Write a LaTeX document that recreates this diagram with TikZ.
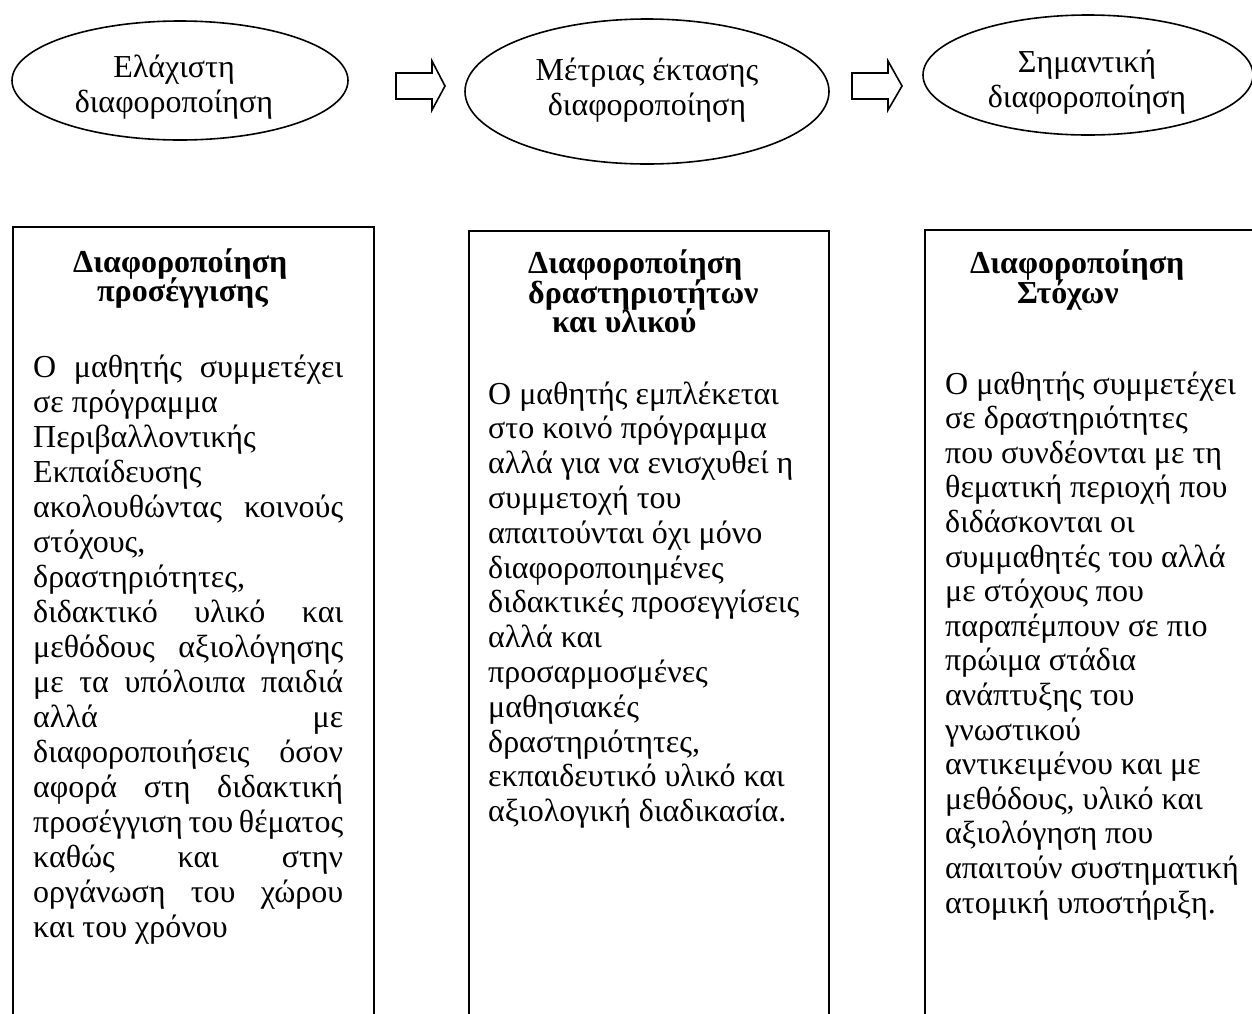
\documentclass[tikz,border=0pt]{standalone}
\usepackage{fontspec}
\setmainfont{Liberation Serif}
\usetikzlibrary{shapes.geometric}
\tikzset{
  oval/.style={draw, ellipse, line width=1.6pt, inner sep=0pt},
  col/.style={draw, line width=1.6pt, inner sep=0pt},
  txt/.style={anchor=base west, inner sep=0pt, font=\fontsize{32}{35}\selectfont},
  hd/.style={anchor=base west, inner sep=0pt, font=\fontsize{32}{35}\selectfont\bfseries},
  ovtxt/.style={anchor=base, inner sep=0pt, font=\fontsize{32}{35}\selectfont},
  blockarrow/.style={draw, line width=1.6pt, line join=miter},
}
\newcommand\jl[1]{\hbox to 310pt{#1}}
\begin{document}
\begin{tikzpicture}[x=1pt,y=-1pt]
\clip (0,0) rectangle (1252,1013);
\fill[white] (0,0) rectangle (1252,1013);

% ovals
\node[oval, minimum width=336pt, minimum height=119pt] (e1) at (180,80.5) {};
\node[oval, minimum width=364pt, minimum height=145pt] (e2) at (647,91.5) {};
\node[oval, minimum width=330pt, minimum height=120pt] (e3) at (1088,75) {};
\node[ovtxt] (e1a) at (174,77) {Ελάχιστη};
\node[ovtxt] (e1b) at (174,112) {διαφοροποίηση};
\node[ovtxt] (e2a) at (647,80) {Μέτριας έκτασης};
\node[ovtxt] (e2b) at (647,115) {διαφοροποίηση};
\node[ovtxt] (e3a) at (1087,72) {Σημαντική};
\node[ovtxt] (e3b) at (1087,107) {διαφοροποίηση};

% block arrows
\draw[blockarrow] (396,73) -- (432,73) -- (432,61) -- (445,86) -- (432,110) -- (432,99) -- (396,99) -- cycle;
\draw[blockarrow] (852,73) -- (888,73) -- (888,61) -- (902,86) -- (888,110) -- (888,99) -- (852,99) -- cycle;

% columns
\node[col, anchor=north west, minimum width=361pt, minimum height=1000pt] (b1) at (12,226) {};
\node[col, anchor=north west, minimum width=360pt, minimum height=1000pt] (b2) at (468,230) {};
\node[col, anchor=north west, minimum width=400pt, minimum height=1000pt] (b3) at (924,229) {};

% headings
\node[hd] (h1a) at (73,272) {Διαφοροποίηση};
\node[hd] (h1b) at (97,301) {προσέγγισης};
\node[hd] (h2a) at (528,273) {Διαφοροποίηση};
\node[hd] (h2b) at (528,303) {δραστηριοτήτων};
\node[hd] (h2c) at (552,332) {και υλικού};
\node[hd] (h3a) at (970,273) {Διαφοροποίηση};
\node[hd] (h3b) at (1017,303) {Στόχων};

% column 1 text
\foreach \t [count=\i] in {
  {\jl{Ο\hfill μαθητής\hfill συμμετέχει}},
  {σε πρόγραμμα},
  {Περιβαλλοντικής},
  {Εκπαίδευσης},
  {\jl{ακολουθώντας\hfill κοινούς}},
  {στόχους,},
  {δραστηριότητες,},
  {\jl{διδακτικό\hfill υλικό\hfill και}},
  {\jl{μεθόδους\hfill αξιολόγησης}},
  {\jl{με\hfill τα\hfill υπόλοιπα\hfill παιδιά}},
  {\jl{αλλά\hfill με}},
  {\jl{διαφοροποιήσεις\hfill όσον}},
  {\jl{αφορά\hfill στη\hfill διδακτική}},
  {\jl{προσέγγιση\hfill του\hfill θέματος}},
  {\jl{καθώς\hfill και\hfill στην}},
  {\jl{οργάνωση\hfill του\hfill χώρου}},
  {και του χρόνου}}
  \node[txt] (t1l\i) at ({33},{377+35*(\i-1)}) {\t};

% column 2 text
\foreach \t [count=\i] in {
  {Ο μαθητής εμπλέκεται},
  {στο κοινό πρόγραμμα},
  {αλλά για να ενισχυθεί η},
  {συμμετοχή του},
  {απαιτούνται όχι μόνο},
  {διαφοροποιημένες},
  {διδακτικές προσεγγίσεις},
  {αλλά και},
  {προσαρμοσμένες},
  {μαθησιακές},
  {δραστηριότητες,},
  {εκπαιδευτικό υλικό και},
  {αξιολογική διαδικασία.}}
  \node[txt] (t2l\i) at ({488},{404+34.8*(\i-1)}) {\t};

% column 3 text
\foreach \t [count=\i] in {
  {Ο μαθητής συμμετέχει},
  {σε δραστηριότητες},
  {που συνδέονται με τη},
  {θεματική περιοχή που},
  {διδάσκονται οι},
  {συμμαθητές του αλλά},
  {με στόχους που},
  {παραπέμπουν σε πιο},
  {πρώιμα στάδια},
  {ανάπτυξης του},
  {γνωστικού},
  {αντικειμένου και με},
  {μεθόδους, υλικό και},
  {αξιολόγηση που},
  {απαιτούν συστηματική},
  {ατομική υποστήριξη.}}
  \node[txt] (t3l\i) at ({945},{394+34.6*(\i-1)}) {\t};
\end{tikzpicture}
\end{document}
